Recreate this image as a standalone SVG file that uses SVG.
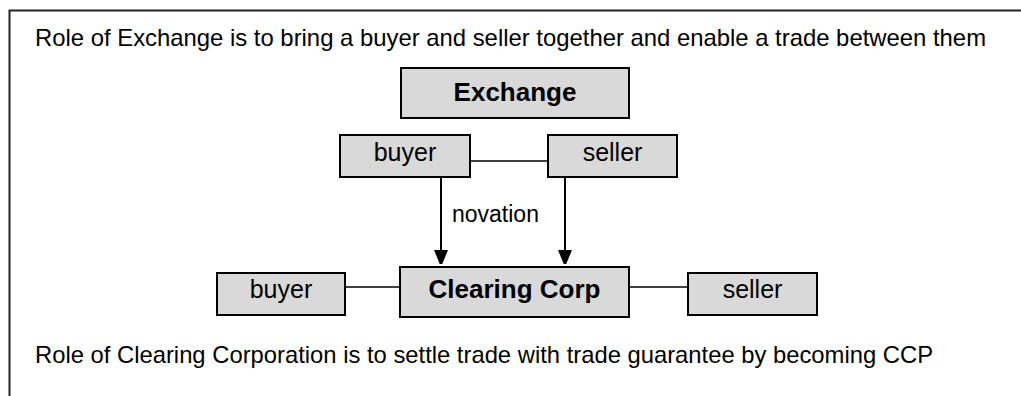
<svg xmlns="http://www.w3.org/2000/svg" width="1021" height="396" viewBox="0 0 1021 396">
<style>
.box{fill:#d9d9d9;stroke:#000;stroke-width:2}
.t{font-family:"Liberation Sans",Arial,sans-serif;fill:#000}
.lbl{font-size:25px;text-anchor:middle}
.b{font-size:26px;font-weight:bold;text-anchor:middle}
.cap{font-size:24px}
.ln{stroke:#000;stroke-width:1.5;fill:none}
.ar{stroke:#000;stroke-width:2;fill:none}
</style>
<defs>
<marker id="ah" markerUnits="userSpaceOnUse" markerWidth="14" markerHeight="18" refX="13" refY="7" orient="auto">
<path d="M0,0 L17,7 L0,14 Z" fill="#000"/>
</marker>
</defs>
<rect x="9.5" y="10.5" width="1100" height="500" fill="#fff" stroke="#222" stroke-width="2"/>
<text class="t cap" x="35" y="46" textLength="951" lengthAdjust="spacingAndGlyphs">Role of Exchange is to bring a buyer and seller together and enable a trade between them</text>
<g id="connectors">
<line class="ln" x1="470" y1="161" x2="548" y2="161"/>
<line class="ar" x1="441" y1="178" x2="441" y2="263" marker-end="url(#ah)"/>
<line class="ar" x1="565" y1="175" x2="565" y2="263" marker-end="url(#ah)"/>
<line class="ln" x1="345" y1="287" x2="400" y2="287"/>
<line class="ln" x1="629" y1="287" x2="688" y2="287"/>
<text class="t" x="452" y="222" font-size="23">novation</text>
</g>
<g id="exchange">
<rect class="box" x="401" y="68" width="228" height="50"/>
<text class="t b" x="515" y="101">Exchange</text>
</g>
<g id="buyer-top">
<rect class="box" x="340" y="135" width="130" height="42"/>
<text class="t lbl" x="405" y="161">buyer</text>
</g>
<g id="seller-top">
<rect class="box" x="548" y="135" width="129" height="42"/>
<text class="t lbl" x="612.5" y="161">seller</text>
</g>
<g id="clearing">
<rect class="box" x="400" y="267" width="229" height="50"/>
<text class="t b" x="514.5" y="298">Clearing Corp</text>
</g>
<g id="buyer-bottom">
<rect class="box" x="217" y="273" width="128" height="42"/>
<text class="t lbl" x="281" y="298">buyer</text>
</g>
<g id="seller-bottom">
<rect class="box" x="688" y="273" width="129" height="42"/>
<text class="t lbl" x="752.5" y="298">seller</text>
</g>
<text class="t cap" x="35" y="363" textLength="898" lengthAdjust="spacingAndGlyphs">Role of Clearing Corporation is to settle trade with trade guarantee by becoming CCP</text>
</svg>
